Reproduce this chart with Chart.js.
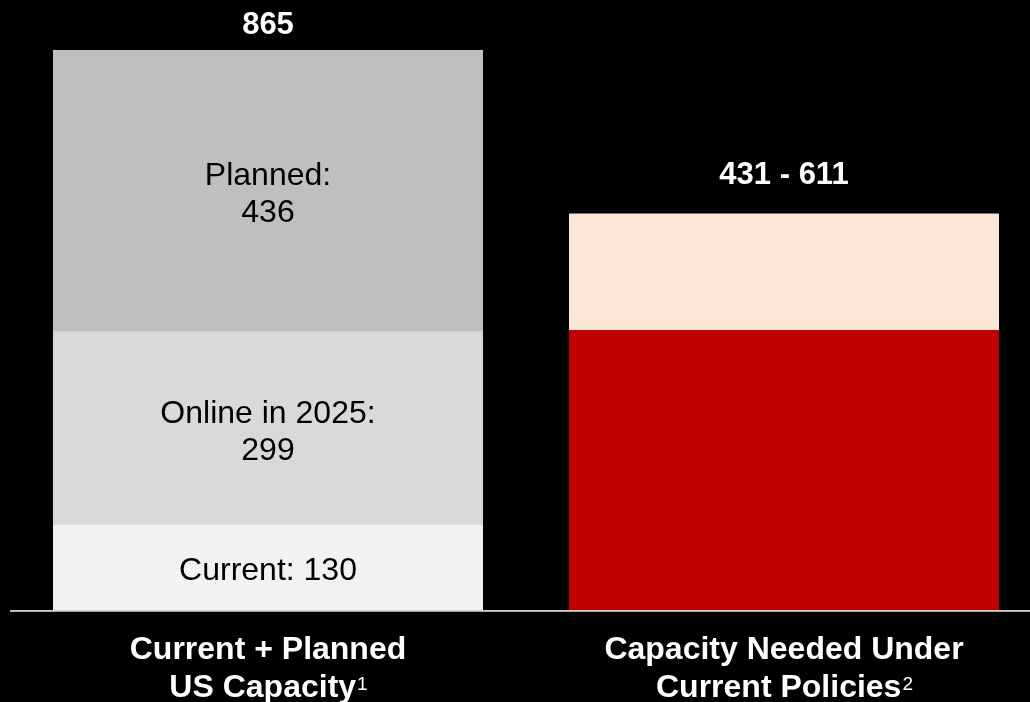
<!DOCTYPE html>
<html>
<head>
<meta charset="utf-8">
<script src="https://cdn.jsdelivr.net/npm/chart.js@4"></script>
<style>
  html, body { margin: 0; padding: 0; background: #000; overflow: hidden; }
  #wrap { width: 1030px; height: 702px; overflow: hidden; }
</style>
</head>
<body>
<div id="wrap"><canvas id="capacity-chart" width="1042" height="702"></canvas></div>
<script>
const categories = [["Current + Planned", "US Capacity"], ["Capacity Needed Under", "Current Policies"]];
const footnotes = ["1", "2"];

// left bar: installed / coming online / planned
const currentCap = [130, null];
const onlineBy2025 = [299, null];
const plannedCap = [436, null];

// right bar: low and high estimate of what is needed
const neededLow = [null, 431];
const neededHigh = [null, 611];
const neededRange = neededHigh.map((v, i) => v == null ? null : v - neededLow[i]);

const FONT = "'Liberation Sans', Arial, sans-serif";

const leftTotal = currentCap[0] + onlineBy2025[0] + plannedCap[0];
const topLabels = [String(leftTotal), neededLow[1] + " - " + neededHigh[1]];
const topValues = [leftTotal, neededHigh[1]];
const topOffsets = [16, 30];

const barLabels = {
  id: "barLabels",
  afterDatasetsDraw(chart) {
    const ctx = chart.ctx;
    const x = chart.scales.x, y = chart.scales.y;
    const zero = y.getPixelForValue(0);

    // base line
    ctx.save();
    ctx.fillStyle = "#a8a8a8";
    ctx.fillRect(10, zero, chart.width, 2);
    ctx.fillStyle = "#d0d0d0";
    ctx.fillRect(10, zero, chart.width, 1);

    // text inside the segments
    ctx.textAlign = "center";
    ctx.textBaseline = "alphabetic";
    ctx.fillStyle = "#000";
    ctx.font = "32px " + FONT;
    chart.data.datasets.forEach((ds, di) => {
      if (!ds.inner) return;
      const meta = chart.getDatasetMeta(di);
      meta.data.forEach((bar, i) => {
        if (ds.data[i] == null) return;
        const lines = ds.inner(ds.data[i]);
        const mid = (bar.y + bar.base) / 2 + 1;
        lines.forEach((t, k) => {
          const by = mid - (lines.length - 1) * 37 / 2 + k * 37 + 11.5;
          ctx.fillText(t, bar.x, by);
        });
      });
    });

    // totals above the bars
    ctx.fillStyle = "#fff";
    ctx.font = "bold 31px " + FONT;
    topLabels.forEach((t, i) => {
      ctx.fillText(t, x.getPixelForValue(i), y.getPixelForValue(topValues[i]) - topOffsets[i]);
    });

    // category names with footnote marks
    categories.forEach((lines, i) => {
      const cx = x.getPixelForValue(i);
      lines.forEach((t, k) => {
        const by = zero + 49 + k * 37.5;
        ctx.font = "bold 32px " + FONT;
        const w = ctx.measureText(t).width;
        let sw = 0;
        if (k === lines.length - 1) {
          ctx.font = "19px " + FONT;
          sw = ctx.measureText(footnotes[i]).width;
        }
        const start = cx - (w + sw) / 2;
        ctx.textAlign = "left";
        ctx.font = "bold 32px " + FONT;
        ctx.fillText(t, start, by);
        if (sw) {
          ctx.font = "19px " + FONT;
          ctx.fillText(footnotes[i], start + w + 1, by - 7);
        }
      });
    });
    ctx.restore();
  }
};

new Chart(document.getElementById("capacity-chart"), {
  type: "bar",
  data: {
    labels: categories.map(c => c.join(" ")),
    datasets: [
      { label: "Current", data: currentCap, backgroundColor: "#f2f2f2",
        inner: v => ["Current: " + v] },
      { label: "Online in 2025", data: onlineBy2025, backgroundColor: "#d9d9d9",
        inner: v => ["Online in 2025:", String(v)] },
      { label: "Planned", data: plannedCap, backgroundColor: "#bfbfbf",
        inner: v => ["Planned:", String(v)] },
      { label: "Needed (low)", data: neededLow, backgroundColor: "#c00000" },
      { label: "Needed (high)", data: neededRange, backgroundColor: "#fbe5d6" }
    ]
  },
  options: {
    responsive: false,
    animation: false,
    devicePixelRatio: 1,
    layout: { padding: { left: 10, right: 0, top: 50, bottom: 92 } },
    // inflateAmount closes the seams between stacked segments
    datasets: { bar: { barPercentage: 1, categoryPercentage: 428 / 516, borderWidth: 0, inflateAmount: 1 } },
    scales: {
      x: { stacked: true, display: false },
      y: { stacked: true, display: false, min: 0, max: leftTotal }
    },
    plugins: { legend: { display: false }, tooltip: { enabled: false } }
  },
  plugins: [barLabels]
});
</script>
</body>
</html>
